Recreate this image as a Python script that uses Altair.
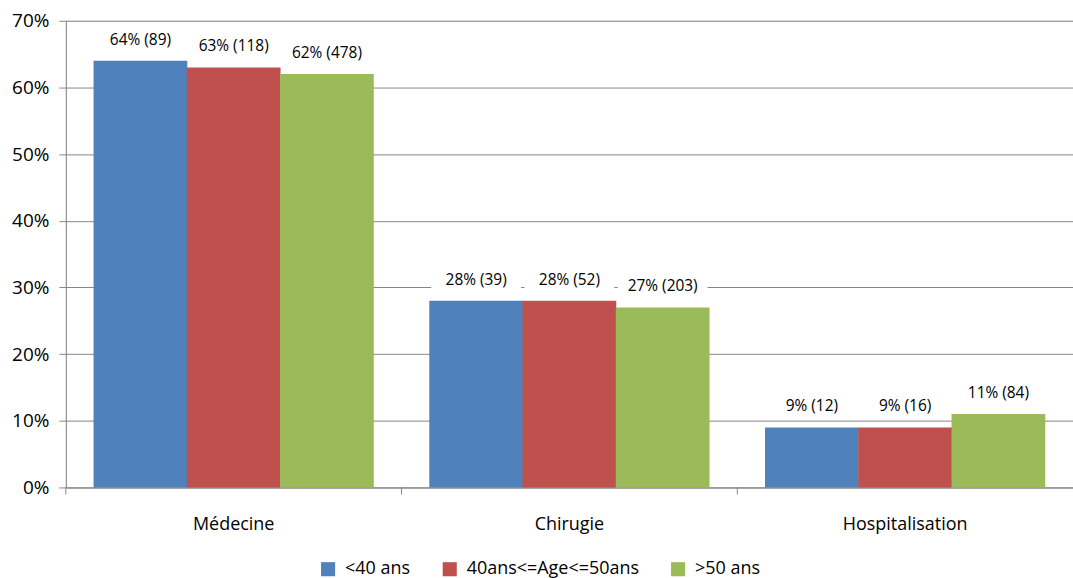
import altair as alt
import pandas as pd

categories = ["Médecine", "Chirugie", "Hospitalisation"]
groups = ["<40 ans", "40ans<=Age<=50ans", ">50 ans"]
colors = ["#4F81BD", "#C0504D", "#9BBB59"]

# percentage per category for each age group, and the matching counts
pct_lt40 = [64, 28, 9]
pct_40_50 = [63, 28, 9]
pct_gt50 = [62, 27, 11]
n_lt40 = [89, 39, 12]
n_40_50 = [118, 52, 16]
n_gt50 = [478, 203, 84]

rows = []
for g, pcts, ns in zip(groups, [pct_lt40, pct_40_50, pct_gt50], [n_lt40, n_40_50, n_gt50]):
    for c, p, n in zip(categories, pcts, ns):
        rows.append({"cat": c, "group": g, "value": p / 100, "label": f"{p}% ({n})"})
df = pd.DataFrame(rows)

FONT = "Open Sans"
AXIS_GREY = "#868686"
W = 1010
STEP = W / len(categories)

x_axis = alt.Axis(labelAngle=0, labelFontSize=18, labelFont=FONT, labelColor="#000",
                  ticks=False, domainColor=AXIS_GREY, labelPadding=28, grid=False,
                  labelAlign="center", labelBaseline="top")
x = alt.X("cat:N", sort=categories, title=None,
          scale=alt.Scale(paddingInner=0, paddingOuter=0), axis=x_axis)
xo = alt.XOffset("group:N", sort=groups,
                 scale=alt.Scale(paddingInner=0, paddingOuter=0.3))
y = alt.Y("value:Q", title=None,
          scale=alt.Scale(domain=[0, 0.7], nice=False),
          axis=alt.Axis(format=".0%", values=[0, 0.1, 0.2, 0.3, 0.4, 0.5, 0.6, 0.7],
                        labelFontSize=19, labelFont=FONT, labelColor="#000",
                        tickSize=7, tickColor=AXIS_GREY, domainColor=AXIS_GREY,
                        gridColor=AXIS_GREY, labelPadding=10))

base = alt.Chart(df)

bars = base.mark_bar(size=94).encode(
    x=x, xOffset=xo, y=y,
    color=alt.Color("group:N", sort=groups,
                    scale=alt.Scale(domain=groups, range=colors),
                    legend=alt.Legend(title=None, orient="none", direction="horizontal",
                                      legendX=254, legendY=541, labelFontSize=18,
                                      labelFont=FONT, labelColor="#000", labelLimit=0,
                                      symbolType="square", symbolSize=200,
                                      symbolStrokeWidth=0, columnPadding=30,
                                      labelOffset=8)),
)

# category boundary ticks below the x axis (shifted from band centre to band start)
cat_ticks = alt.Chart(pd.DataFrame({"cat": categories})).mark_rule(
    color=AXIS_GREY, strokeWidth=1, xOffset=-STEP / 2
).encode(
    x=x, y=alt.value(468), y2=alt.value(475),
)

# white boxes behind the value labels hide the gridlines under them
boxes = base.mark_tick(color="white", thickness=18, size=90, orient="horizontal", opacity=1).encode(
    x=x, xOffset=xo, y=y, yOffset=alt.value(-20),
)

texts = base.mark_text(fontSize=15.5, font=FONT, color="#000", dy=-21, baseline="middle").encode(
    x=x, xOffset=xo, y=y, text="label:N",
)

chart = alt.layer(boxes, bars, texts, cat_ticks).properties(
    width=W, height=468,
    padding={"left": 66, "top": 20, "right": 0, "bottom": 90},
).configure_view(stroke=None).configure(autosize=alt.AutoSizeParams(type="none"))

chart.save("out.html", embed_options={"renderer": "svg", "actions": False})
